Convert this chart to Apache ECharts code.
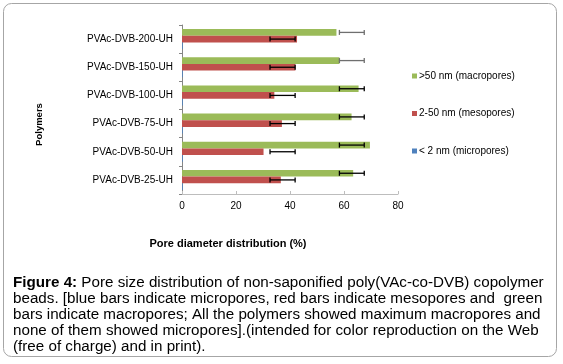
<!DOCTYPE html>
<html><head><meta charset="utf-8">
<script src="https://cdn.jsdelivr.net/npm/echarts@6/dist/echarts.min.js"></script>
<style>html,body{margin:0;padding:0;background:#fff}#c{width:563px;height:364px}</style>
</head><body><div id="c"></div>
<script>
// ---- data ----
var categories = ['PVAc-DVB-25-UH','PVAc-DVB-50-UH','PVAc-DVB-75-UH','PVAc-DVB-100-UH','PVAc-DVB-150-UH','PVAc-DVB-200-UH'];
var seriesNames = ['< 2 nm (micropores)','2-50 nm (mesopores)','>50 nm (macropores)'];
var micro = [0.3, 0.3, 0.3, 0.3, 0.3, 0.3];
var meso  = [36.6, 30.2, 37.0, 34.2, 42.0, 42.6];
var macro = [63.4, 69.6, 62.8, 65.4, 58.3, 57.2];
var mesoErrLow  = [32.6, 32.6, 32.6, 32.6, 32.6, 32.6];
var mesoErrHigh = [41.9, 41.9, 41.9, 41.9, 41.9, 41.9];
var macroErrLow  = [58.3, 58.3, 58.3, 58.3, 58.3, 58.3];
var macroErrHigh = [67.5, 67.5, 67.5, 67.5, 67.5, 67.5];
var xTicks = {min: 0, max: 80, interval: 20};
var captionLines = [
  ['Figure 4:', ' Pore size distribution of non-saponified poly(VAc-co-DVB) copolymer'],
  ['', 'beads. [blue bars indicate micropores, red bars indicate mesopores and  green'],
  ['', 'bars indicate macropores; All the polymers showed maximum macropores and'],
  ['', 'none of them showed micropores].(intended for color reproduction on the Web'],
  ['', '(free of charge) and in print).']
];
var xTitle = 'Pore diameter distribution (%)';
var yTitle = 'Polymers';

// ---- chart ----
var BW = 6.67;
function errSeries(low, high, offset, colorFn) {
  var d = categories.map(function (c, i) { return [i, low[i], high[i]]; });
  return {
    type: 'custom', silent: true, z: 5,
    data: d,
    encode: {x: [1, 2], y: 0},
    renderItem: function (params, api) {
      var i = api.value(0);
      var p1 = api.coord([api.value(1), i]);
      var p2 = api.coord([api.value(2), i]);
      var y = p1[1] + offset;
      var col = colorFn(i);
      var st = {stroke: col, lineWidth: 1.3};
      return {type: 'group', children: [
        {type: 'line', shape: {x1: p1[0], y1: y, x2: p2[0], y2: y}, style: st},
        {type: 'line', shape: {x1: p1[0], y1: y - 2.5, x2: p1[0], y2: y + 2.5}, style: st},
        {type: 'line', shape: {x1: p2[0], y1: y - 2.5, x2: p2[0], y2: y + 2.5}, style: st}
      ]};
    }
  };
}

var graphics = [
  {type: 'rect', shape: {x: 3.5, y: 3.5, width: 553, height: 353, r: 8}, style: {fill: 'none', stroke: '#a6a6a6', lineWidth: 1}, z: -1},
  {type: 'text', style: {text: xTitle, x: 228, y: 244, align: 'center', verticalAlign: 'middle', font: 'bold 11px "Liberation Sans", Arial', fill: '#000'}},
  {type: 'text', rotation: Math.PI / 2, x: 39, y: 124.5, style: {text: yTitle, x: 0, y: 0, align: 'center', verticalAlign: 'middle', font: 'bold 9.5px "Liberation Sans", Arial', fill: '#000'}}
];
captionLines.forEach(function (ln, k) {
  graphics.push({type: 'text', x: 13, y: 283 + k * 16, style: {
    text: (ln[0] ? '{b|' + ln[0] + '}' : '') + '{n|' + ln[1] + '}',
    x: 0, y: 0, verticalAlign: 'middle',
    rich: {
      b: {font: 'bold 15.2px "Liberation Sans", Arial', fill: '#000'},
      n: {font: '15.2px "Liberation Sans", Arial', fill: '#000'}
    }
  }});
});

var chart = echarts.init(document.getElementById('c'), null, {renderer: 'canvas'});
chart.setOption({
  animation: false,
  backgroundColor: '#fff',
  textStyle: {fontFamily: '"Liberation Sans", Arial, sans-serif'},
  grid: {left: 182, right: 165, top: 25, bottom: 170, containLabel: false},
  legend: {
    orient: 'vertical', left: 407, top: 65,
    data: [seriesNames[2], seriesNames[1], seriesNames[0]],
    itemWidth: 5, itemHeight: 5, itemGap: 25.5,
    icon: 'rect',
    textStyle: {fontSize: 10, color: '#000', lineHeight: 12, padding: [0, 0, 0, -3]},
    selectedMode: false
  },
  xAxis: {
    type: 'value', min: xTicks.min, max: xTicks.max, interval: xTicks.interval,
    splitLine: {show: false},
    axisLine: {show: true, lineStyle: {color: '#bdbdbd', width: 1}},
    axisTick: {show: true, inside: true, length: 3, lineStyle: {color: '#bdbdbd'}},
    axisLabel: {fontSize: 10, color: '#000', margin: 7}
  },
  yAxis: {
    type: 'category', data: categories,
    axisLine: {show: true, lineStyle: {color: '#868686', width: 1}},
    axisTick: {show: true, length: 3, lineStyle: {color: '#868686'}},
    axisLabel: {fontSize: 10, color: '#000', margin: 9}
  },
  graphic: graphics,
  series: [
    {name: seriesNames[2], type: 'bar', data: macro, barWidth: BW, barGap: '0%', itemStyle: {color: '#9BBB59'}},
    {name: seriesNames[1], type: 'bar', data: meso, barWidth: BW, barGap: '0%', itemStyle: {color: '#C0504D'}},
    {name: seriesNames[0], type: 'bar', data: micro, barWidth: BW, barGap: '0%', itemStyle: {color: '#4F81BD'}},
    errSeries(mesoErrLow, mesoErrHigh, 0, function () { return '#000'; }),
    errSeries(macroErrLow, macroErrHigh, -BW, function (i) { return i >= 4 ? '#6f6f6f' : '#000'; })
  ]
});
</script></body></html>
